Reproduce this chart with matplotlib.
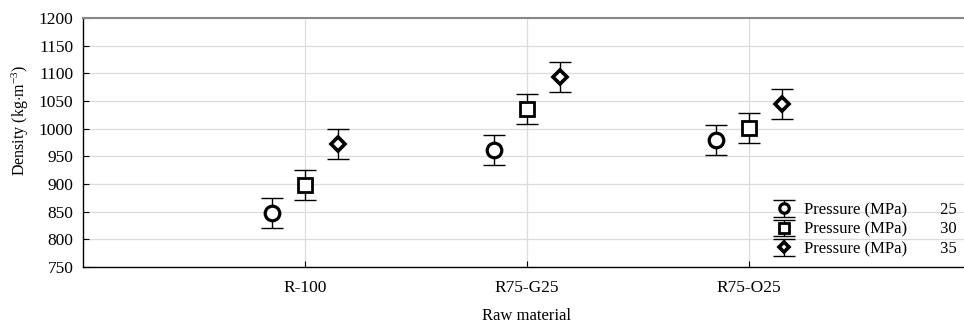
import matplotlib
matplotlib.use("Agg")
import matplotlib.pyplot as plt
import numpy as np

plt.rcParams['font.family'] = ['Liberation Serif', 'DejaVu Serif']
plt.rcParams['mathtext.fontset'] = 'custom'
plt.rcParams['mathtext.rm'] = 'Liberation Serif'
plt.rcParams['mathtext.it'] = 'Liberation Serif:italic'

categories = ["R-100", "R75-G25", "R75-O25"]
pressures = [25, 30, 35]
density_25 = [848, 962, 979]
density_30 = [898, 1036, 1001]
density_35 = [972, 1093, 1045]
err_25 = [27, 27, 27]
err_30 = [27, 27, 27]
err_35 = [27, 27, 27]
yticks = [750, 800, 850, 900, 950, 1000, 1050, 1100, 1150, 1200]

series = [(density_25, err_25, 'o', 10.5, 2.3, -0.15),
          (density_30, err_30, 's', 10.5, 2.0, 0.0),
          (density_35, err_35, 'D', 7.5, 2.6, 0.15)]

fig = plt.figure(figsize=(9.64, 3.29), dpi=100)
W, H = 964, 329
ax = fig.add_axes([83 / W, 1 - 267 / H, (971 - 83) / W, (267 - 18) / H])

x = np.arange(1, len(categories) + 1)
for p, (vals, errs, mk, ms, mew, off) in zip(pressures, series):
    cont = ax.errorbar(x + off, vals, yerr=errs, fmt=mk, ms=ms, mfc='white', mec='black',
                       ecolor='black', elinewidth=1.0, capsize=8, capthick=1.0,
                       color='black', label=f"Pressure (MPa)        {p}")
    cont[0].set_markeredgewidth(mew)

ax.set_xlim(0, 4)
ax.set_ylim(750, 1200)
ax.set_xticks(x)
ax.set_xticklabels(categories)
ax.set_yticks(yticks)
ax.tick_params(direction='in', length=4, width=0.8, labelsize=12.5, colors='black')
ax.tick_params(axis='x', pad=9.5)
ax.tick_params(axis='y', pad=7)
ax.grid(True, color='#dcdcdc', linewidth=0.9)
ax.set_axisbelow(True)
ax.spines['right'].set_visible(False)
ax.spines['top'].set_color('#888888')
ax.spines['top'].set_linewidth(1.5)
ax.spines['left'].set_linewidth(1.0)
ax.spines['bottom'].set_linewidth(1.0)

fig.text(527 / W, 1 - 316 / H, "Raw material", ha='center', va='center', fontsize=12)
fig.text(20 / W, 1 - 120 / H, r"Density (kg$\cdot$m$^{-3}$)", ha='center', va='center',
         rotation=90, fontsize=11.5)

leg = ax.legend(loc='upper left', bbox_to_anchor=(762 / W, 1 - 194 / H),
                bbox_transform=fig.transFigure, frameon=False, fontsize=12,
                handlelength=1.6, handletextpad=0.4, labelspacing=0.2,
                borderpad=0.0, markerscale=0.65)

fig.savefig("out.png", dpi=100)
